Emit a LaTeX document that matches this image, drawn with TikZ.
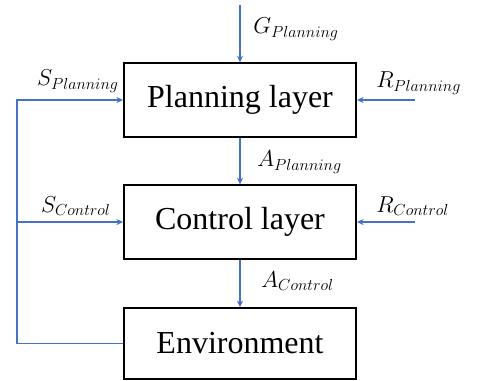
\documentclass[tikz,border=0pt]{standalone}
\usepackage{fontspec}
\setmainfont{Liberation Serif}
\usetikzlibrary{arrows.meta}

\definecolor{sigblue}{HTML}{4472C4}

\tikzset{
    layer/.style={draw=black, line width=1.4pt, minimum width=174pt,
                  minimum height=55pt, inner sep=0pt,
                  font=\fontsize{24}{27}\selectfont},
    sig/.style={draw=sigblue, line width=1.4pt},
    lbl/.style={inner sep=0pt, font=\fontsize{18}{20}\selectfont}
}

\begin{document}
\begin{tikzpicture}[x=0.75pt, y=-0.75pt, >={Stealth[length=5pt, width=4.5pt]}]
\useasboundingbox (0,0) rectangle (480,381);

% the three blocks
\node[layer] (plan) at (240,100) {Planning layer};
\node[layer] (ctrl) at (240,222) {Control layer};
\node[layer, minimum height=53pt] (env) at (240,343.5) {Environment};

% free ends of the inputs
\coordinate (gin) at (240,5);
\coordinate (rpin) at (415,100);
\coordinate (rcin) at (415,222);
\coordinate (fb) at (17,0);

% top-down path
\draw[sig,->] (gin) -- (plan.north);
\draw[sig,->] (plan.south) -- (ctrl.north);
\draw[sig,->] (ctrl.south) -- (env.north);

% rewards
\draw[sig,->] (rpin) -- (plan.east);
\draw[sig,->] (rcin) -- (ctrl.east);

% state feedback
\draw[sig,->] (env.west) -- (env.west -| fb) |- (plan.west);
\draw[sig,->] (ctrl.west -| fb) -- (ctrl.west);

% labels
\node[lbl, anchor=west] at (253,29) {$G_{Planning}$};
\node[lbl, anchor=west] at (257,162) {$A_{Planning}$};
\node[lbl, anchor=west] at (261,281) {$A_{Control}$};
\node[lbl, anchor=west] at (376,83) {$R_{Planning}$};
\node[lbl, anchor=west] at (376,206) {$R_{Control}$};
\node[lbl, anchor=east] at (119,81) {$S_{Planning}$};
\node[lbl, anchor=east] at (111,206) {$S_{Control}$};
\end{tikzpicture}
\end{document}
